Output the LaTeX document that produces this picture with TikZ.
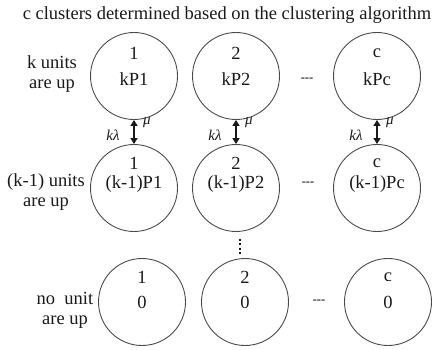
\documentclass[tikz,border=0pt]{standalone}
\usepackage{fontspec}
\setmainfont{Liberation Serif}
\usetikzlibrary{arrows.meta}
\definecolor{Ink}{HTML}{1A1A1A}
\definecolor{Edge}{HTML}{4A4A4A}

\tikzset{
  state/.style={circle,draw=Edge,line width=0.9pt,minimum size=87pt,inner sep=0pt},
  txt/.style={font=\fontsize{18.5}{20}\selectfont,text=Ink,inner sep=0pt},
  side/.style={txt,align=center},
  rate/.style={font=\fontsize{15}{17}\selectfont\itshape,text=Ink,inner sep=0pt},
  gap/.style={font=\fontsize{12.5}{14}\selectfont\bfseries,text=Ink,inner sep=0pt},
  updown/.style={Ink,line width=1.6pt,{Triangle[length=6pt,width=7pt]}-{Triangle[length=6pt,width=7pt]}}
}

\begin{document}
\begin{tikzpicture}[x=1pt,y=-1pt]
  \useasboundingbox (0,0) rectangle (434,350);
  \node[txt] (title) at (227,15) {c clusters determined based on the clustering algorithm};
  % left labels
  \node[side] (lab1) at (52,74) {k units\\are up};
  \node[side] (lab2) at (46,192) {(k-1) units\\are up};
  \node[side] (lab3) at (65,310) {no\ \ unit\\are up};
  % three rows of clusters
  \foreach \i/\x/\n in {1/134/1, 2/236/2, 3/377/c} {
    \node[state] (top\i) at (\x,76) {};
    \node[txt] (topn\i) at (\x,53) {\n};
    \node[txt] (topp\i) at (\x,79) {k\ifnum\i=3 Pc\else P\i\fi};
    \node[state] (mid\i) at (\x,188) {};
    \node[txt] (midn\i) at (\x,163) {\n};
    \node[txt] (midp\i) at (\x,184) {(k-1)\ifnum\i=3 Pc\else P\i\fi};
    \draw[updown] (top\i.south) -- (mid\i.north);
    \node[rate] (lam\i) at (\x-21,135) {kλ};
    \node[rate] (mu\i) at (\x+13,123) {μ};
  }
  \foreach \i/\x/\n in {1/142/1, 2/245/2, 3/388/c} {
    \node[state] (bot\i) at (\x,302) {};
    \node[txt] (botn\i) at (\x,277) {\n};
    \node[txt] (botp\i) at (\x,302) {0};
  }
  % ellipses
  \node[gap] (dots1) at (307,80) {{-}{-}{-}};
  \node[gap] (dots2) at (308,184) {{-}{-}{-}};
  \node[gap] (dots3) at (319,302) {{-}{-}{-}};
  \coordinate (vd1) at (240,239);
  \coordinate (vd2) at (240,256);
  \draw[Ink,line width=1.3pt,dash pattern=on 2pt off 2.4pt] (vd1) -- (vd2);
\end{tikzpicture}
\end{document}
